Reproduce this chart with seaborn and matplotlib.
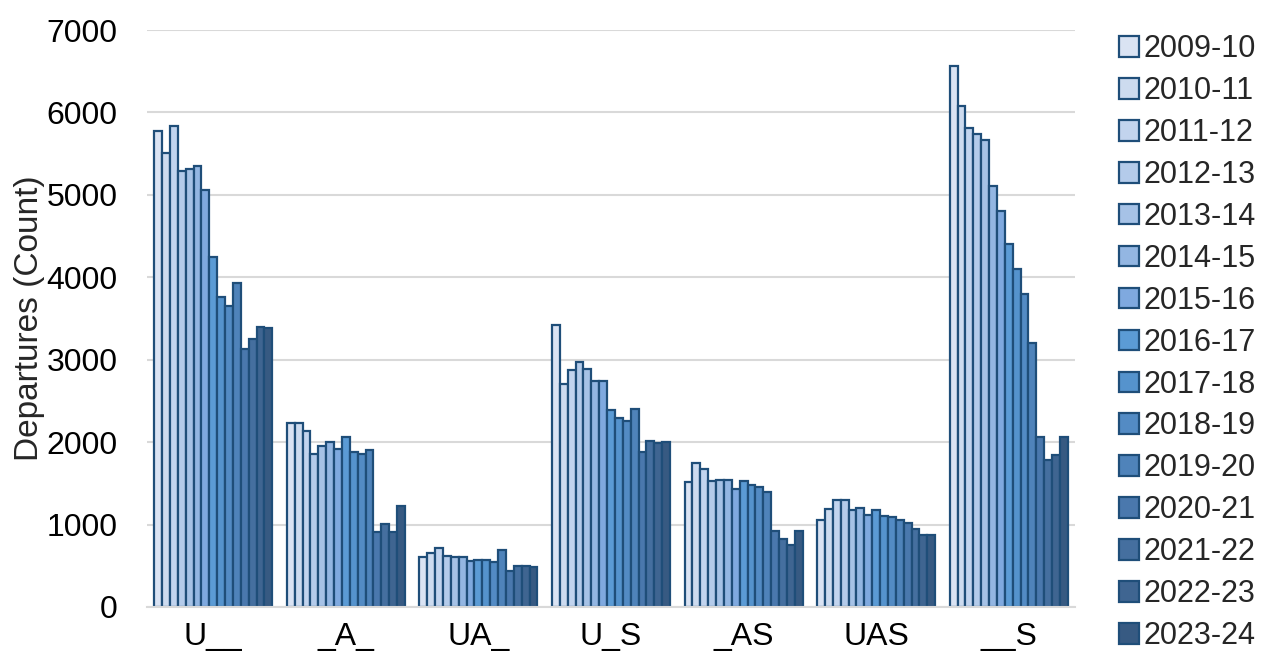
import matplotlib
matplotlib.use("Agg")
import matplotlib.pyplot as plt
import seaborn as sns
import pandas as pd

categories = ["U__", "_A_", "UA_", "U_S", "_AS", "UAS", "__S"]
years = ["2009-10", "2010-11", "2011-12", "2012-13", "2013-14", "2014-15", "2015-16",
         "2016-17", "2017-18", "2018-19", "2019-20", "2020-21", "2021-22", "2022-23", "2023-24"]

u__ = [5770, 5506, 5834, 5290, 5316, 5348, 5053, 4243, 3757, 3648, 3927, 3130, 3247, 3400, 3390]
_a_ = [2235, 2235, 2138, 1862, 1955, 2000, 1919, 2061, 1883, 1862, 1907, 911, 1004, 911, 1223]
ua_ = [604, 657, 714, 624, 604, 604, 563, 576, 576, 543, 686, 437, 494, 494, 482]
u_s = [3421, 2704, 2878, 2971, 2890, 2736, 2736, 2396, 2298, 2254, 2408, 1877, 2019, 1990, 2002]
_as = [1520, 1751, 1674, 1532, 1544, 1544, 1427, 1532, 1480, 1455, 1394, 928, 831, 758, 916]
uas = [1053, 1189, 1299, 1299, 1176, 1197, 1115, 1180, 1098, 1086, 1057, 1025, 943, 877, 877]
__s = [6564, 6079, 5806, 5740, 5670, 5106, 4810, 4405, 4097, 3802, 3203, 2057, 1784, 1850, 2057]

series = [u__, _a_, ua_, u_s, _as, uas, __s]

colors = ["#DAE3F3", "#CDDBEF", "#C2D4EE", "#B4CBEA", "#A6C2E6", "#93B6E2", "#7FA9DF",
          "#5B9BD5", "#5593CD", "#538BC4", "#4F83BA", "#4A78AD", "#456F9F", "#3F6591", "#375A82"]

rows = []
for cat, vals in zip(categories, series):
    for yr, v in zip(years, vals):
        rows.append({"cat": cat, "year": yr, "value": v})
df = pd.DataFrame(rows)

sns.set_theme(style="white")
plt.rcParams["font.family"] = ["Liberation Sans", "DejaVu Sans"]

fig = plt.figure(figsize=(12.73, 6.60), dpi=100)
ax = fig.add_axes([147/1273, 1-607/660, (1075-147)/1273, (607-30)/660])

sns.barplot(data=df, x="cat", y="value", hue="year", order=categories, hue_order=years,
            palette=colors, width=0.89, edgecolor="#1F4E79", linewidth=1.6,
            ax=ax, legend=True, saturation=1)

ax.set_ylim(0, 7000)
ax.set_xlim(-0.5, 6.5)
ax.set_yticks(range(0, 7001, 1000))
ax.yaxis.grid(True, color="#D9D9D9", linewidth=1.5)
ax.set_axisbelow(True)
for s in ["left", "right", "top"]:
    ax.spines[s].set_visible(False)
ax.spines["bottom"].set_color("#D9D9D9")
ax.spines["bottom"].set_linewidth(1.5)
ax.tick_params(axis="both", length=0, labelsize=23, colors="black")
ax.tick_params(axis="y", pad=21)
ax.tick_params(axis="x", pad=11)
ax.set_xlabel("")
ax.set_ylabel("Departures (Count)", fontsize=24, labelpad=1)

handles, labels = ax.get_legend_handles_labels()
ax.get_legend().remove()
fig.legend(handles, labels, loc="upper left", bbox_to_anchor=(1107/1273, 1-22/660),
           frameon=False, fontsize=22, handlelength=0.66, handleheight=0.66,
           handletextpad=0.12, labelspacing=0.39, borderaxespad=0)

fig.savefig("out.png", dpi=100)
